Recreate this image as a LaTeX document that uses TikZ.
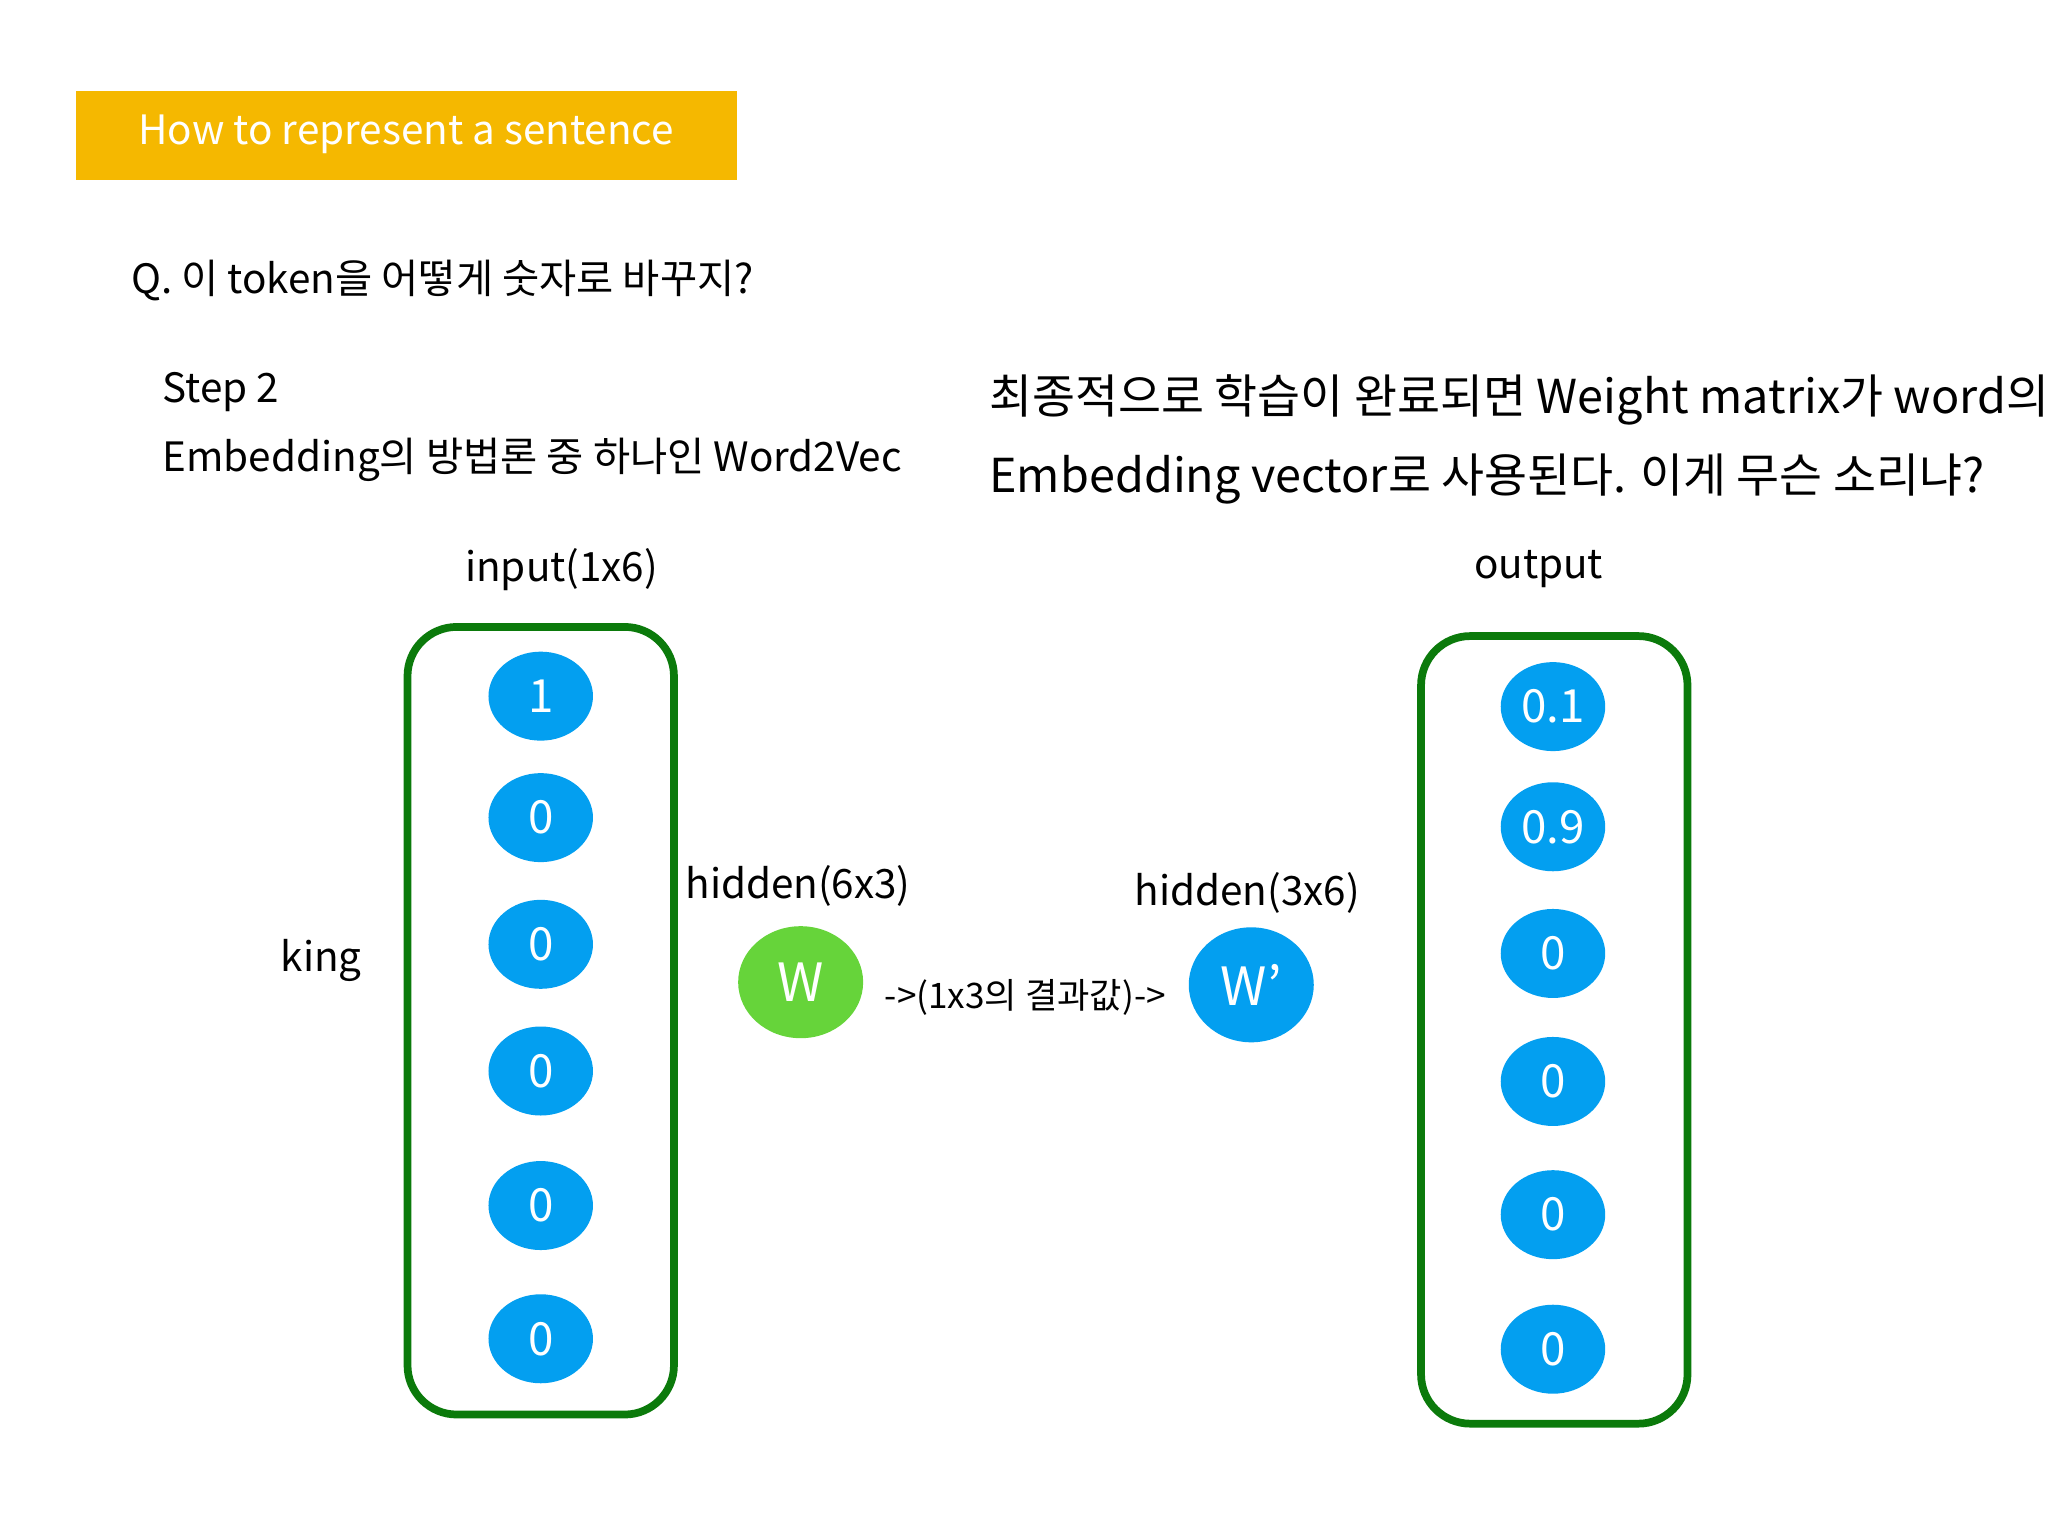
\documentclass[tikz,border=0pt]{standalone}
\usepackage{fontspec}
\setmainfont{Noto Sans CJK KR}
\usetikzlibrary{shapes.geometric}
\definecolor{ban}{HTML}{F5B800}
\definecolor{bx}{HTML}{0B7A0B}
\definecolor{bl}{HTML}{039FF0}
\definecolor{gr}{HTML}{66D43A}
\tikzset{
 txt/.style={inner sep=0pt,font=\fontsize{11.5pt}{14pt}\selectfont},
 big/.style={inner sep=0pt,font=\fontsize{13.3pt}{16pt}\selectfont},
 col/.style={draw=bx,line width=2.2pt,rounded corners=14pt},
 neu/.style={ellipse,fill=bl,minimum width=1.045cm,minimum height=0.89cm,inner sep=0pt,text=white,font=\fontsize{13pt}{15pt}\selectfont},
}
\begin{document}
\begin{tikzpicture}[x=0.01306cm,y=-0.01306cm]
\useasboundingbox (0,0) rectangle (1568,1176);
\fill[ban] (58,70) rectangle (564,138);
\node[txt,text=white] (ttl) at (311,103) {How to represent a sentence};
\node[txt,anchor=west] (q) at (100,215) {Q. 이 token을 어떻게 숫자로 바꾸지?};
\node[txt,anchor=west] (s2) at (124,300) {Step 2};
\node[txt,anchor=west] (emb) at (124,352) {Embedding의 방법론 중 하나인 Word2Vec};
\node[big,anchor=west] (r1) at (757,306) {최종적으로 학습이 완료되면 Weight matrix가 word의};
\node[big,anchor=west] (r2) at (757,367) {Embedding vector로 사용된다. 이게 무슨 소리냐?};
\node[txt] (inl) at (430,436) {input(1x6)};
\node[txt] (outl) at (1178,436) {output};
\node[txt] (king) at (246,735) {king};
\draw[col] (312,480) rectangle (516,1083);
\draw[col] (1088,487) rectangle (1292,1090);
\foreach \y/\t [count=\i] in {533/1,626/0,723/0,820/0,923/0,1025/0}
  \node[neu] (i\i) at (414,\y) {\t};
\foreach \y/\t [count=\i] in {541/0.1,633/0.9,730/0,828/0,930/0,1033/0}
  \node[neu] (o\i) at (1189,\y) {\t};
\node[txt] (h1) at (611,678) {hidden(6x3)};
\node[neu,fill=gr,minimum width=1.25cm,minimum height=1.12cm,font=\fontsize{15pt}{17pt}\selectfont] (W) at (613,752) {W};
\node[inner sep=0pt,font=\fontsize{10pt}{12pt}\selectfont] (mid) at (785,764) {->(1x3의 결과값)->};
\node[txt] (h2) at (955,684) {hidden(3x6)};
\node[neu,minimum width=1.25cm,minimum height=1.15cm,font=\fontsize{15pt}{17pt}\selectfont] (W2) at (958,754) {W’};
\end{tikzpicture}
\end{document}
